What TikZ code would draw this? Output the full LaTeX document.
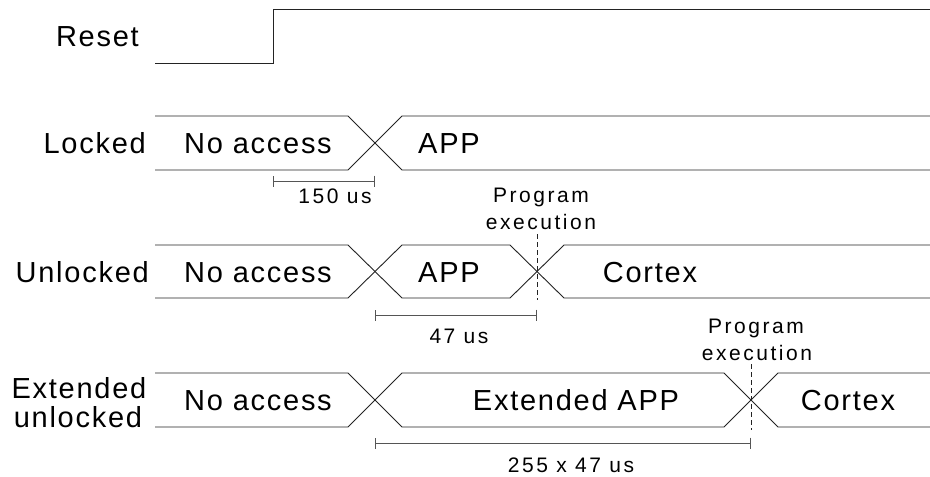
\documentclass[tikz,border=0pt]{standalone}
\usepackage{fontspec}
\usetikzlibrary{arrows.meta}
\setmainfont{Liberation Sans}
\newfontfamily\bigfont[LetterSpace=6]{Liberation Sans}
\newfontfamily\smallfont[LetterSpace=12]{Liberation Sans}
\definecolor{white}{RGB}{255,255,255}
\definecolor{wave_grey}{RGB}{35,35,35}
\definecolor{bar_grey}{RGB}{85,85,85}

\tikzset{
	big_text/.style={inner sep=0pt,font=\bigfont\fontsize{29}{34}\selectfont},
	small_text/.style={inner sep=0pt,font=\smallfont\fontsize{21}{26}\selectfont},
	wave/.style={wave_grey,line width=0.9pt},
	span_bar/.style={bar_grey,line width=1pt,{Bar[width=11pt]}-{Bar[width=11pt]}}
}

\begin{document}
\begin{tikzpicture}[x=1pt,y=-1pt]
	\fill[white] (0,0) rectangle (930,477);
	\useasboundingbox (0,0) rectangle (930,477);

	% signal names
	\node[big_text,anchor=base east] (reset) at (139,46) {Reset};
	\node[big_text,anchor=base east] (locked) at (146,153) {Locked};
	\node[big_text,anchor=base east] (unlocked) at (149,282) {Unlocked};
	\node[big_text,anchor=base] (ext1) at (79,398) {Extended};
	\node[big_text,anchor=base] (ext2) at (78,427) {unlocked};

	% reset
	\draw[wave] (155,63) -- (273,63) -- (273,9) -- (930,9);

	% locked
	\draw[wave] (155,116) -- (348,116) -- (402,170) -- (930,170);
	\draw[wave] (155,170) -- (348,170) -- (402,116) -- (930,116);
	\node[big_text,anchor=base] (na1) at (258,153) {No access};
	\node[big_text,anchor=base] (app1) at (449,153) {APP};

	% unlocked
	\draw[wave] (155,245) -- (348,245) -- (402,298) -- (510,298) -- (564,245) -- (930,245);
	\draw[wave] (155,298) -- (348,298) -- (402,245) -- (510,245) -- (564,298) -- (930,298);
	\node[big_text,anchor=base] (na2) at (258,282) {No access};
	\node[big_text,anchor=base] (app2) at (449,282) {APP};
	\node[big_text,anchor=base] (cortex2) at (650,282) {Cortex};

	% extended unlocked
	\draw[wave] (155,373) -- (348,373) -- (402,427) -- (724,427) -- (778,373) -- (930,373);
	\draw[wave] (155,427) -- (348,427) -- (402,373) -- (724,373) -- (778,427) -- (930,427);
	\node[big_text,anchor=base] (na3) at (258,410) {No access};
	\node[big_text,anchor=base] (eapp) at (576,410) {Extended APP};
	\node[big_text,anchor=base] (cortex3) at (848,410) {Cortex};

	% program execution marks
	\coordinate (pe1top) at (537,234);
	\coordinate (pe1bot) at (537,300);
	\coordinate (pe2top) at (751,364);
	\coordinate (pe2bot) at (751,430);
	\draw[wave,line width=0.8pt,dash pattern=on 5pt off 3pt] (pe1top) -- (pe1bot);
	\draw[wave,line width=0.8pt,dash pattern=on 5pt off 3pt] (pe2top) -- (pe2bot);
	\node[small_text,anchor=base] (prog1) at (541,202) {Program};
	\node[small_text,anchor=base] (exec1) at (541,229) {execution};
	\node[small_text,anchor=base] (prog2) at (756,333) {Program};
	\node[small_text,anchor=base] (exec2) at (757,360) {execution};

	% timings
	\coordinate (t150a) at (273,181);
	\coordinate (t150b) at (375,181);
	\coordinate (t47a) at (375,315);
	\coordinate (t47b) at (537,315);
	\coordinate (t255a) at (375,443);
	\coordinate (t255b) at (751,443);
	\draw[span_bar] (t150a) -- (t150b);
	\draw[span_bar] (t47a) -- (t47b);
	\draw[span_bar] (t255a) -- (t255b);
	\node[small_text,anchor=base] (l150) at (335,203) {150 us};
	\node[small_text,anchor=base] (l47) at (459,343) {47 us};
	\node[small_text,anchor=base] (l255) at (571,472) {255 x 47 us};
\end{tikzpicture}
\end{document}
